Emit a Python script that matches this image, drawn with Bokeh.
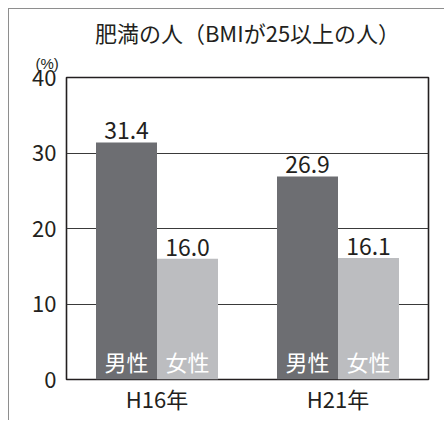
from bokeh.plotting import figure
from bokeh.models import ColumnDataSource, FactorRange, Range1d, FixedTicker, Title
from bokeh.transform import dodge
from bokeh.core.properties import value
from bokeh.embed import file_html
from bokeh.resources import INLINE

years = ["H16年", "H21年"]
male = [31.4, 26.9]
female = [16.0, 16.1]
series_names = ["男性", "女性"]
y_ticks = [0, 10, 20, 30, 40]
title_text = "肥満の人（BMIが25以上の人）"
unit_text = "(%)"

FONT = "Noto Sans CJK JP"
MALE_C = "#6d6e72"
FEMALE_C = "#bcbdc0"
TXT = "#231f20"

src = ColumnDataSource(dict(
    year=years,
    male=male,
    female=female,
    male_lbl=[f"{v:.1f}" for v in male],
    female_lbl=[f"{v:.1f}" for v in female],
    male_name=[series_names[0]] * len(years),
    female_name=[series_names[1]] * len(years),
    zero=[0] * len(years),
))

p = figure(width=436, height=412, output_backend="svg", toolbar_location=None,
           x_range=FactorRange(factors=years, range_padding=0),
           y_range=Range1d(0, 40), title_location=None,
           min_border_left=57, min_border_top=68, min_border_right=17, min_border_bottom=42)
p.margin = (8, 0, 0, 8)
p.styles = {"border-top": "1px solid #8e8e8e", "border-left": "1px solid #8e8e8e"}

unit_title = Title(text=unit_text, align="left", offset=-31, standoff=11,
                   text_font="Liberation Sans", text_font_size="15px", text_font_style="normal",
                   text_color=TXT)
main_title = Title(text=title_text, align="center", standoff=0,
                   text_font=FONT, text_font_size="22px", text_font_style="normal",
                   text_color=TXT)
p.add_layout(unit_title, "above")
p.add_layout(main_title, "above")

p.outline_line_color = TXT
p.outline_line_width = 1.6
p.outline_line_alpha = 1

p.xgrid.grid_line_color = None
p.ygrid.ticker = FixedTicker(ticks=[10, 20, 30])
p.ygrid.grid_line_color = "#3a3a3a"
p.ygrid.grid_line_width = 1

bw = 0.337
off = 0.1685
p.vbar(x=dodge("year", -off, range=p.x_range), top="male", width=bw, source=src,
       fill_color=MALE_C, line_color=None)
p.vbar(x=dodge("year", off, range=p.x_range), top="female", width=bw, source=src,
       fill_color=FEMALE_C, line_color=None)

common = dict(text_font=value(FONT), text_align="center", source=src)
p.text(x=dodge("year", -off, range=p.x_range), y="male", text="male_lbl",
       text_baseline="bottom", y_offset=-3, text_font_size="23px", text_color=TXT, **common)
p.text(x=dodge("year", off, range=p.x_range), y="female", text="female_lbl",
       text_baseline="bottom", y_offset=-3, text_font_size="23px", text_color=TXT, **common)
p.text(x=dodge("year", -off, range=p.x_range), y="zero", text="male_name",
       text_baseline="bottom", y_offset=-3, text_font_size="22px", text_color="white", **common)
p.text(x=dodge("year", off, range=p.x_range), y="zero", text="female_name",
       text_baseline="bottom", y_offset=-3, text_font_size="22px", text_color="white", **common)

p.yaxis.ticker = FixedTicker(ticks=y_ticks)
p.yaxis.axis_line_color = None
p.yaxis.major_tick_line_color = None
p.yaxis.major_tick_out = 0
p.yaxis.major_tick_in = 0
p.yaxis.minor_tick_line_color = None
p.yaxis.major_label_standoff = 10
p.yaxis.major_label_text_font = FONT
p.yaxis.major_label_text_font_size = "22px"
p.yaxis.major_label_text_color = TXT

p.xaxis.axis_line_color = None
p.xaxis.major_tick_line_color = None
p.xaxis.major_tick_out = 0
p.xaxis.major_tick_in = 0
p.xaxis.major_label_standoff = 2
p.xaxis.major_label_text_font = FONT
p.xaxis.major_label_text_font_size = "22px"
p.xaxis.major_label_text_color = TXT

open("out.html", "w").write(file_html(p, INLINE))
